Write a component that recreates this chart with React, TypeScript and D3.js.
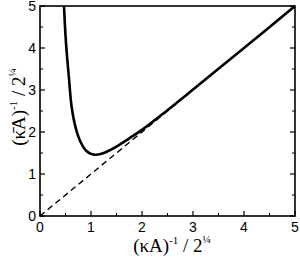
import React from "react";
import * as d3 from "d3";

// values
const curveX = [0.47, 0.5, 0.53, 0.57, 0.62, 0.7, 0.8, 0.9, 1.0, 1.1, 1.25, 1.5, 1.75, 2.0, 2.5, 3.0, 4.0, 5.0];
const curveY = [5.0, 4.3, 3.8, 3.25, 2.6, 2.1, 1.75, 1.56, 1.48, 1.46, 1.5, 1.65, 1.85, 2.05, 2.52, 3.01, 4.0, 5.0];
const diagonal = [0, 5];
const majorTicks = [0, 1, 2, 3, 4, 5];
const minorTicks = [0.5, 1.5, 2.5, 3.5, 4.5];

const width = 300;
const height = 259;
const margin = { top: 6, right: 5, bottom: 43, left: 40 };

const App: React.FC = () => {
  const x = d3.scaleLinear().domain([0, 5]).range([margin.left, width - margin.right]);
  const y = d3.scaleLinear().domain([0, 5]).range([height - margin.bottom, margin.top]);

  const line = d3
    .line<number>()
    .x((_, i) => x(curveX[i]))
    .y((_, i) => y(curveY[i]))
    .curve(d3.curveCatmullRom.alpha(0.5));

  const diag = d3
    .line<number>()
    .x((d) => x(d))
    .y((d) => y(d));

  const x0 = x(0);
  const x1 = x(5);
  const y0 = y(0);
  const y1 = y(5);
  const tickFont = "'Liberation Sans', Arial, sans-serif";
  const labelFont = "'Liberation Serif', 'Times New Roman', serif";

  return (
    <svg width={width} height={height} style={{ position: "absolute", left: 0, top: 0 }}>
      <defs>
        <clipPath id="plot">
          <rect x={x0} y={y1} width={x1 - x0} height={y0 - y1} />
        </clipPath>
      </defs>
      <g clipPath="url(#plot)">
        <path d={diag(diagonal) ?? ""} fill="none" stroke="#000" strokeWidth={1.4} strokeDasharray="6,4" />
        <path d={line(curveX) ?? ""} fill="none" stroke="#000" strokeWidth={2.6} />
      </g>
      <rect x={x0} y={y1} width={x1 - x0} height={y0 - y1} fill="none" stroke="#000" strokeWidth={1.6} />
      {majorTicks.map((t) => (
        <g key={"mx" + t}>
          <line x1={x(t)} x2={x(t)} y1={y0} y2={y0 - 5} stroke="#000" strokeWidth={1.2} />
          <line x1={x0} x2={x0 + 5} y1={y(t)} y2={y(t)} stroke="#000" strokeWidth={1.2} />
          <line x1={x1} x2={x1 - 5} y1={y(t)} y2={y(t)} stroke="#000" strokeWidth={1.2} />
        </g>
      ))}
      {minorTicks.map((t) => (
        <g key={"mn" + t}>
          <line x1={x(t)} x2={x(t)} y1={y0} y2={y0 - 3} stroke="#000" strokeWidth={1} />
          <line x1={x0} x2={x0 + 3} y1={y(t)} y2={y(t)} stroke="#000" strokeWidth={1} />
          <line x1={x1} x2={x1 - 3} y1={y(t)} y2={y(t)} stroke="#000" strokeWidth={1} />
        </g>
      ))}
      {majorTicks.map((t) => (
        <text key={"lx" + t} x={x(t)} y={y0 + 16} textAnchor="middle" fontFamily={tickFont} fontSize={14}>
          {t}
        </text>
      ))}
      {majorTicks.map((t) => (
        <text key={"ly" + t} x={x0 - 4} y={y(t) + 5} textAnchor="end" fontFamily={tickFont} fontSize={14}>
          {t}
        </text>
      ))}
      <text x={172} y={252} textAnchor="middle" fontFamily={labelFont} fontSize={19}>
        (κA)
        <tspan fontSize={11} dy={-8}>-1</tspan>
        <tspan dy={8}> / 2</tspan>
        <tspan fontSize={11} dy={-9}>¼</tspan>
      </text>
      <text
        transform={`translate(25, 107) rotate(-90)`}
        textAnchor="middle"
        fontFamily={labelFont}
        fontSize={19}
      >
        (κ̄A)
        <tspan fontSize={11} dy={-8}>-1</tspan>
        <tspan dy={8}> / 2</tspan>
        <tspan fontSize={11} dy={-9}>¼</tspan>
      </text>
    </svg>
  );
};

export default App;
